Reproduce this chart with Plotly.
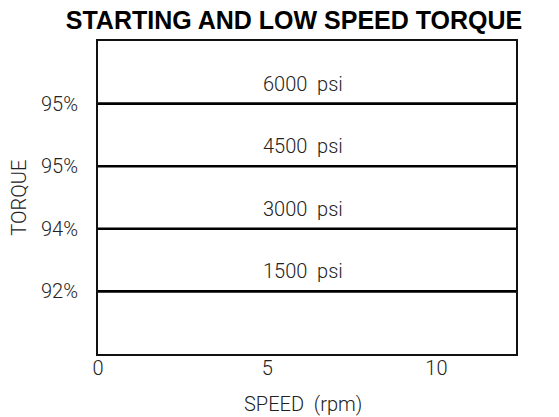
import plotly.graph_objects as go

# Speed axis (rpm) and the pressure curves, top to bottom
speed_ticks = [0, 5, 10]
speed_range = [0, 12.35]
pressures = ["6000  psi", "4500  psi", "3000  psi", "1500  psi"]
levels = [4, 3, 2, 1]
torque_labels = ["95%", "95%", "94%", "92%"]

TXT = dict(family="Roboto", size=20, color="#222222", weight=300)

fig = go.Figure()

for lvl, p in zip(levels, pressures):
    fig.add_trace(go.Scatter(
        x=speed_range, y=[lvl, lvl], mode="lines",
        line=dict(color="#000000", width=2.6),
        hoverinfo="skip", showlegend=False,
    ))
    fig.add_annotation(
        x=sum(speed_range) / 2, y=lvl, text=p, showarrow=False,
        xref="x", yref="y", yanchor="bottom", yshift=6, xshift=-4, font=TXT,
    )

fig.update_xaxes(
    range=speed_range, tickvals=speed_ticks, ticktext=[str(v) for v in speed_ticks],
    showgrid=False, zeroline=False, ticks="", ticklabelstandoff=-5,
    showline=True, linecolor="#111111", linewidth=2, mirror=True,
    tickfont=TXT,
)
fig.update_yaxes(
    range=[0, 5], tickvals=levels, ticktext=torque_labels,
    showgrid=False, zeroline=False, ticks="", ticklabelstandoff=14,
    showline=True, linecolor="#111111", linewidth=2, mirror=True,
    tickfont=TXT,
)

fig.add_annotation(text="SPEED  (rpm)", xref="paper", yref="paper",
                   x=0.49, y=-0.16, yanchor="middle", showarrow=False, font=TXT)
fig.add_annotation(text="TORQUE", xref="paper", yref="paper", textangle=-90,
                   x=-0.191, y=0.5, xanchor="center", showarrow=False, font=TXT)

fig.update_layout(
    width=559, height=417,
    margin=dict(l=98, r=43, t=41, b=63),
    paper_bgcolor="white", plot_bgcolor="white",
    title=dict(text="<b>STARTING AND LOW SPEED TORQUE</b>",
               font=dict(family="Liberation Sans", size=25, color="#000000"),
               x=0.526, xanchor="center", y=1 - 20 / 417, yanchor="middle",
               xref="container", yref="container"),
)

fig.write_html("out.html")
